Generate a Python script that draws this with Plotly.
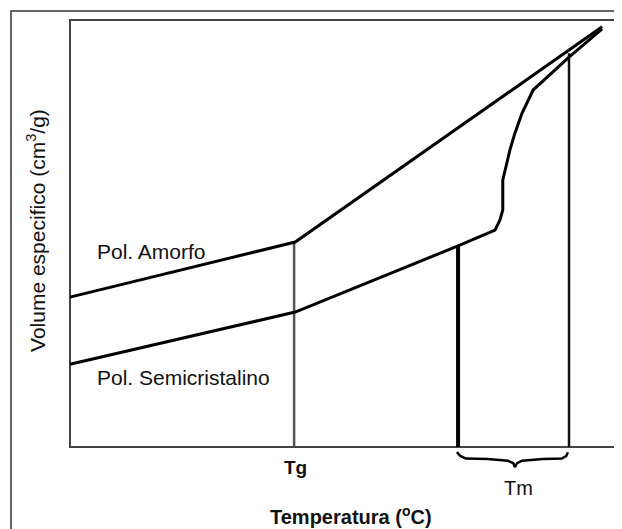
import plotly.graph_objects as go

# ---- data (arbitrary units: temperature 0-100, specific volume 0-100) ----
amorfo_T = [0, 40.8, 96.4]
amorfo_V = [35.1, 48.0, 98.4]

semi_T = [0, 40.8, 70.3, 77.0, 77.9, 78.4, 78.4, 78.8, 79.7, 80.6, 81.9, 83.9, 87.0, 90.4, 96.4]
semi_V = [19.4, 31.6, 47.1, 50.8, 53.2, 55.5, 62.5, 64.9, 69.6, 73.5, 78.2, 83.6, 87.3, 91.3, 97.9]

# vertical reference lines: Tg, start of melting, end of melting
vline_T = [40.6, 70.3, 90.4]
vline_top = [48.0, 47.1, 92.2]
vline_width = [2.5, 4, 2.5]
vline_color = ["#555555", "#000000", "#111111"]

# brace under the melting range (Tm)
brace_T = [70.1, 70.7, 71.7, 75.7, 79.3, 80.3, 80.6, 81.0, 81.9, 85.7, 89.1, 89.9, 90.2]
brace_V = [-1.2, -2.1, -2.7, -2.8, -3.2, -3.8, -4.7, -3.8, -3.2, -2.8, -2.7, -2.1, -1.2]

tick_labels = {"Tg": (40.9, -4.7), "Tm": (81.2, -9.6)}

FONT = "Liberation Sans, Arial, sans-serif"

fig = go.Figure()

for T, top, w, c in zip(vline_T, vline_top, vline_width, vline_color):
    fig.add_trace(go.Scatter(x=[T, T], y=[0, top], mode="lines",
                             line=dict(color=c, width=w), hoverinfo="skip"))

fig.add_trace(go.Scatter(x=amorfo_T, y=amorfo_V, mode="lines",
                         line=dict(color="black", width=3), name="Pol. Amorfo"))
fig.add_trace(go.Scatter(x=semi_T, y=semi_V, mode="lines",
                         line=dict(color="black", width=3), name="Pol. Semicristalino"))
fig.add_trace(go.Scatter(x=brace_T, y=brace_V, mode="lines",
                         line=dict(color="black", width=2.5), hoverinfo="skip"))

# inner frame (left, top, bottom axes)
fig.add_shape(type="rect", xref="x", yref="y", x0=0, y0=0, x1=130, y1=100,
              line=dict(color="#444444", width=2), layer="below")
# outer border
fig.add_shape(type="rect", xref="paper", yref="paper", x0=-0.0833, y0=-0.2, x1=1.2, y1=0.998,
              line=dict(color="#333333", width=1.5), layer="below")

fig.add_annotation(x=4.5, y=45.7, xref="x", yref="y", text="Pol. Amorfo", showarrow=False,
                   xanchor="left", yanchor="middle", font=dict(family=FONT, size=21, color="#111"))
fig.add_annotation(x=4.5, y=16.2, xref="x", yref="y", text="Pol. Semicristalino", showarrow=False,
                   xanchor="left", yanchor="middle", font=dict(family=FONT, size=21, color="#111"))

fig.add_annotation(x=tick_labels["Tg"][0], y=tick_labels["Tg"][1], xref="x", yref="y", text="<b>Tg</b>",
                   showarrow=False, xanchor="center", yanchor="middle",
                   font=dict(family=FONT, size=19, color="#111"))
fig.add_annotation(x=tick_labels["Tm"][0], y=tick_labels["Tm"][1], xref="x", yref="y", text="Tm",
                   showarrow=False, xanchor="center", yanchor="middle",
                   font=dict(family=FONT, size=20, color="#111"))

fig.add_annotation(x=50.9, y=-16.0, xref="x", yref="y", text="<b>Temperatura (<sup>o</sup>C)</b>",
                   showarrow=False, xanchor="center", yanchor="middle",
                   font=dict(family=FONT, size=20, color="#111"))
fig.add_annotation(x=-0.039, y=50.6, xref="paper", yref="y", text="Volume especifico (cm<sup>3</sup>/g)",
                   showarrow=False, xanchor="center", yanchor="middle", textangle=-90,
                   font=dict(family=FONT, size=21, color="#111"))

# the page body adds an 8px offset, so the figure is 8px smaller than the window
fig.update_layout(
    width=614, height=521,
    margin=dict(l=50, r=0, t=2, b=0),
    paper_bgcolor="white", plot_bgcolor="white",
    showlegend=False,
    xaxis=dict(range=[-2.174, 100], visible=False),
    yaxis=dict(range=[-19.2, 102.34], visible=False),
)

fig.write_html("out.html")
